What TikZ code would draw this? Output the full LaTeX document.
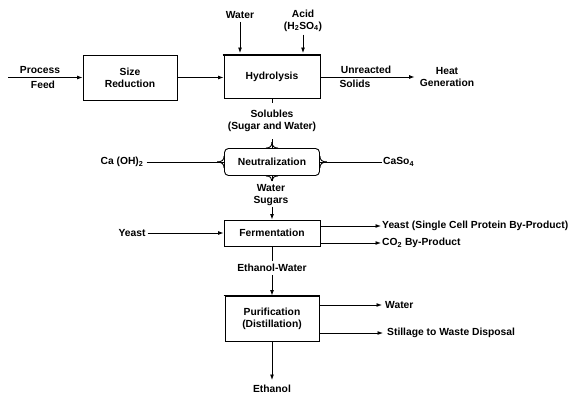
\documentclass[tikz,border=0pt]{standalone}
\usepackage{fontspec}
\setmainfont{Liberation Sans}
\usetikzlibrary{arrows.meta,calc}
\begin{document}
\begin{tikzpicture}[x=1pt,y=-1pt,
  lbl/.style={font=\bfseries\fontsize{10.3}{11.5}\selectfont, inner sep=0pt, align=center},
  box/.style={draw, line width=0.9pt, font=\bfseries\fontsize{10.3}{12}\selectfont, align=center, inner sep=0pt},
  conn/.style={line width=0.9pt},
  flow/.style={line width=0.9pt, -{Latex[length=5.5pt,width=4pt]}},
  thick top/.style={line width=1.8pt}]
\useasboundingbox (0,0) rectangle (583,395);

% boxes
\node[box, minimum width=94pt, minimum height=45pt] (sr) at (130,77.5) {Size\\Reduction};
\node[box, minimum width=96pt, minimum height=43pt] (hy) at (272,77) {Hydrolysis};
\node[box, rounded corners=4pt, minimum width=95pt, minimum height=27pt] (ne) at (272,162) {Neutralization};
\node[box, minimum width=96pt, minimum height=26pt] (fe) at (272,233) {Fermentation};
\node[box, minimum width=94pt, minimum height=45pt] (pu) at (272,318.5) {Purification\\(Distillation)};
\draw[thick top] ($(hy.north west)+(-1,0)$) -- ($(hy.north east)+(1,0)$);
\draw[thick top] ($(pu.north west)+(-1,0)$) -- ($(pu.north east)+(1,0)$);

% feed
\node[lbl] (pf1) at (40,70) {Process};
\node[lbl] (pf2) at (43,85) {Feed};
\coordinate (pfs) at (8,77.5);
\draw[flow] (pfs) -- (sr.west);
\draw[flow] (sr.east) -- (sr.east -| hy.west);

% inputs to hydrolysis
\node[lbl] (wa) at (240,15) {Water};
\draw[flow] ([yshift=-3pt]wa.south) -- ([yshift=2pt]wa.south |- hy.north);
\node[lbl] (ac) at (303,21) {Acid\\(H\textsubscript{2}SO\textsubscript{4})};
\draw[flow] ([yshift=-3pt]ac.south) -- ([yshift=2pt]ac.south |- hy.north);

% unreacted solids
\node[lbl] (he) at (447,77) {Heat\\Generation};
\node[lbl] (ur) at (366,70) {Unreacted};
\node[lbl] (sl) at (355,84) {Solids};
\draw[flow, shorten >=5pt] (hy.east) -- (hy.east -| he.west);

% solubles
\node[lbl] (so) at (272,121) {Solubles\\(Sugar and Water)};
\draw[conn] (hy.south) -- ++(0,4);
\draw[conn] (ne.north) -- ++(0,-9);

% neutralization side streams
\node[lbl] (ca) at (122,162) {Ca (OH)\textsubscript{2}};
\node[lbl, anchor=west] (cs) at (383,162) {CaSo\textsubscript{4}};
\draw[conn] ([xshift=3pt]ca.east) -- (ne.west);
\draw[conn] (ne.east) -- ([xshift=-1pt]cs.west);
% flares
\draw[conn] ($(ne.west)+(-7,0)$) .. controls ($(ne.west)+(-2,0)$) and ($(ne.west)+(0,2)$) .. ($(ne.west)+(0,6)$);
\draw[conn] ($(ne.west)+(-7,0)$) .. controls ($(ne.west)+(-2,0)$) and ($(ne.west)+(0,-2)$) .. ($(ne.west)+(0,-6)$);
\draw[conn] ($(ne.east)+(7,0)$) .. controls ($(ne.east)+(2,0)$) and ($(ne.east)+(0,2)$) .. ($(ne.east)+(0,6)$);
\draw[conn] ($(ne.east)+(7,0)$) .. controls ($(ne.east)+(2,0)$) and ($(ne.east)+(0,-2)$) .. ($(ne.east)+(0,-6)$);
\draw[conn] ($(ne.north)+(0,-6)$) .. controls ($(ne.north)+(0,-2)$) and ($(ne.north)+(2,0)$) .. ($(ne.north)+(6,0)$);
\draw[conn] ($(ne.north)+(0,-6)$) .. controls ($(ne.north)+(0,-2)$) and ($(ne.north)+(-2,0)$) .. ($(ne.north)+(-6,0)$);
\draw[conn] ($(ne.south)+(0,5)$) .. controls ($(ne.south)+(0,2)$) and ($(ne.south)+(2,0)$) .. ($(ne.south)+(6,0)$);
\draw[conn] ($(ne.south)+(0,5)$) .. controls ($(ne.south)+(0,2)$) and ($(ne.south)+(-2,0)$) .. ($(ne.south)+(-6,0)$);

% water sugars
\node[lbl] (ws) at (271,195) {Water\\Sugars};
\draw[conn] (ne.south) -- ++(0,5);
\draw[flow] ([yshift=-1pt]ws.south -| fe.north) -- (fe.north);

% fermentation
\node[lbl] (ye) at (132,233) {Yeast};
\draw[flow] ([xshift=2pt]ye.east) -- (fe.west);
\node[lbl, anchor=west] (yo) at (382,226) {Yeast (Single Cell Protein By-Product)};
\node[lbl, anchor=west] (co) at (382,243) {CO\textsubscript{2} By-Product};
\draw[flow] (fe.east |- yo.west) -- ([xshift=-1pt]yo.west);
\draw[flow] (fe.east |- co.west) -- ([xshift=-1pt]co.west);

% ethanol-water
\node[lbl] (ew) at (272,268) {Ethanol-Water};
\draw[conn] (fe.south) -- ([yshift=3pt]ew.north);
\draw[flow] ([yshift=-3pt]ew.south) -- (pu.north);

% purification outputs
\node[lbl, anchor=west] (wo) at (385,305) {Water};
\node[lbl, anchor=west] (st) at (387,333) {Stillage to Waste Disposal};
\draw[flow] (pu.east |- wo.west) -- ([xshift=-3pt]wo.west);
\draw[flow] (pu.east |- st.west) -- ([xshift=-4pt]st.west);

\node[lbl] (et) at (272,389) {Ethanol};
\draw[flow] (pu.south) -- ([yshift=5pt]et.north);
\end{tikzpicture}
\end{document}
